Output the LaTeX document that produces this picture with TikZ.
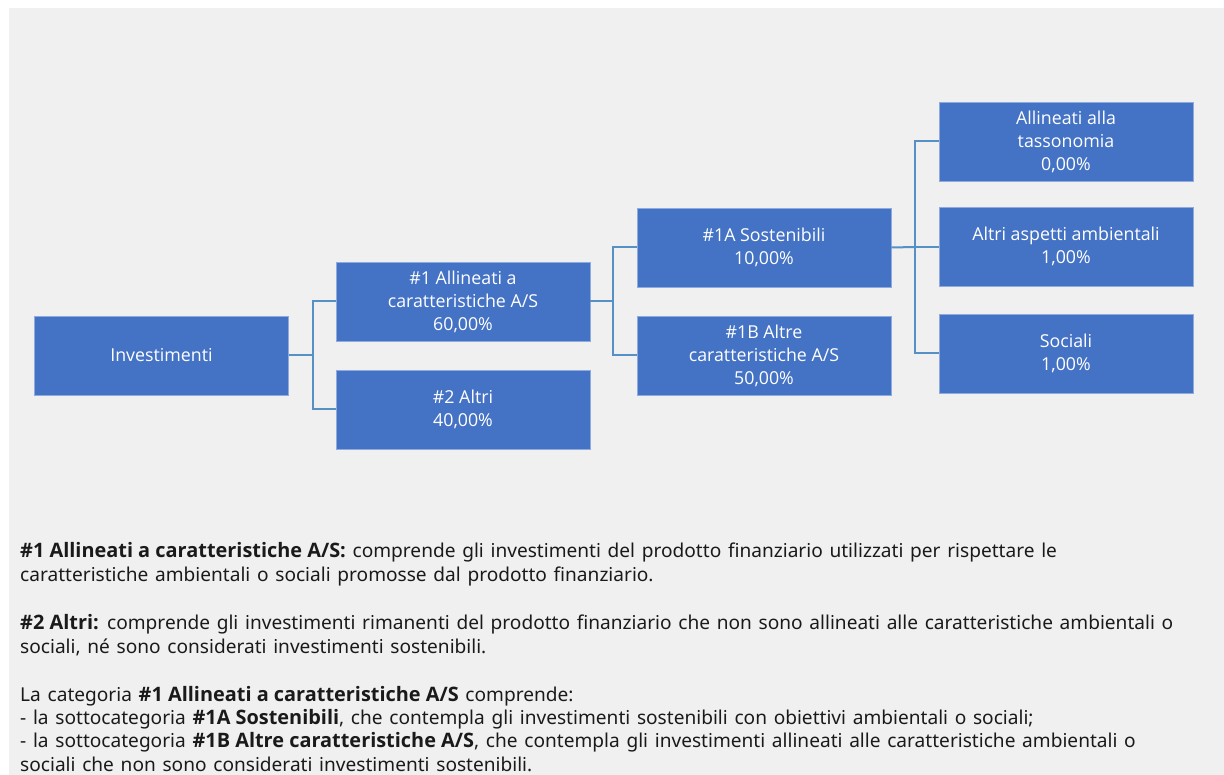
\documentclass[tikz,border=0pt]{standalone}
\usepackage{fontspec}
\setmainfont{Open Sans}
\newfontfamily\notefont{Noto Sans}[WordSpace=1.35]
\newfontfamily\osans{Open Sans}
\newcommand\bt[1]{{\osans\bfseries\fontsize{19.9}{24}\selectfont #1}}
\definecolor{bg}{HTML}{F0F0F0}
\definecolor{boxblue}{HTML}{4472C4}
\definecolor{boxedge}{HTML}{8FAADC}
\definecolor{linkblue}{HTML}{5591C4}
\definecolor{txt}{HTML}{1A1A1A}
\tikzset{
  px/.style={x=1pt,y=-1pt},
  cat/.style={draw=boxedge,line width=0.6pt,fill=boxblue,text=white,minimum width=254pt,minimum height=79pt,
    align=center,inner sep=0pt,font=\fontsize{17.8}{23}\selectfont},
  link/.style={draw=linkblue,line width=2pt},
  note/.style={anchor=base west,inner sep=0pt,text=txt,font=\notefont\fontsize{19.1}{24}\selectfont}
}
\begin{document}
\begin{tikzpicture}[px]
\useasboundingbox (0,0) rectangle (1224,775);
\fill[bg] (9,8) rectangle (1224,775);
\node[cat] (inv) at (161.5,355.5) {Investimenti};
\node[cat] (a1) at (463,301.5) {\#1 Allineati a\\caratteristiche A/S\\60,00\%};
\node[cat] (a2) at (463,409.5) {\#2 Altri\\40,00\%};
\node[cat] (s1a) at (764,247.5) {\#1A Sostenibili\\10,00\%};
\node[cat] (s1b) at (764,355.5) {\#1B Altre\\caratteristiche A/S\\50,00\%};
\node[cat] (tax) at (1066,141.5) {Allineati alla\\tassonomia\\0,00\%};
\node[cat] (amb) at (1066,246.5) {Altri aspetti ambientali\\1,00\%};
\node[cat] (soc) at (1066,353.5) {Sociali\\1,00\%};
\coordinate (j1) at (313,355.5);
\coordinate (j2) at (613,301.5);
\coordinate (j3) at (915,247);
\draw[link] (inv.east) -- (j1);
\draw[link] (a1.west) -| (j1) |- (a2.west);
\draw[link] (a1.east) -- (j2);
\draw[link] (s1a.west) -| (j2) |- (s1b.west);
\draw[link] (s1a.east) -- (j3);
\draw[link] (tax.west) -| (j3) |- (soc.west);
\draw[link] (j3) -- (amb.west |- j3);
\node[note] (n1) at (20,557) {\bt{\#1 Allineati a caratteristiche A/S:} comprende gli investimenti del prodotto finanziario utilizzati per rispettare le};
\node[note] (n2) at (20,581) {caratteristiche ambientali o sociali promosse dal prodotto finanziario.};
\node[note] (n3) at (20,629) {\bt{\#2 Altri:} comprende gli investimenti rimanenti del prodotto finanziario che non sono allineati alle caratteristiche ambientali o};
\node[note] (n4) at (20,653) {sociali, né sono considerati investimenti sostenibili.};
\node[note] (n5) at (20,701) {La categoria \bt{\#1 Allineati a caratteristiche A/S} comprende:};
\node[note] (n6) at (20,724) {- la sottocategoria \bt{\#1A Sostenibili}, che contempla gli investimenti sostenibili con obiettivi ambientali o sociali;};
\node[note] (n7) at (20,747) {- la sottocategoria \bt{\#1B Altre caratteristiche A/S}, che contempla gli investimenti allineati alle caratteristiche ambientali o};
\node[note] (n8) at (20,771) {sociali che non sono considerati investimenti sostenibili.};
\end{tikzpicture}
\end{document}
